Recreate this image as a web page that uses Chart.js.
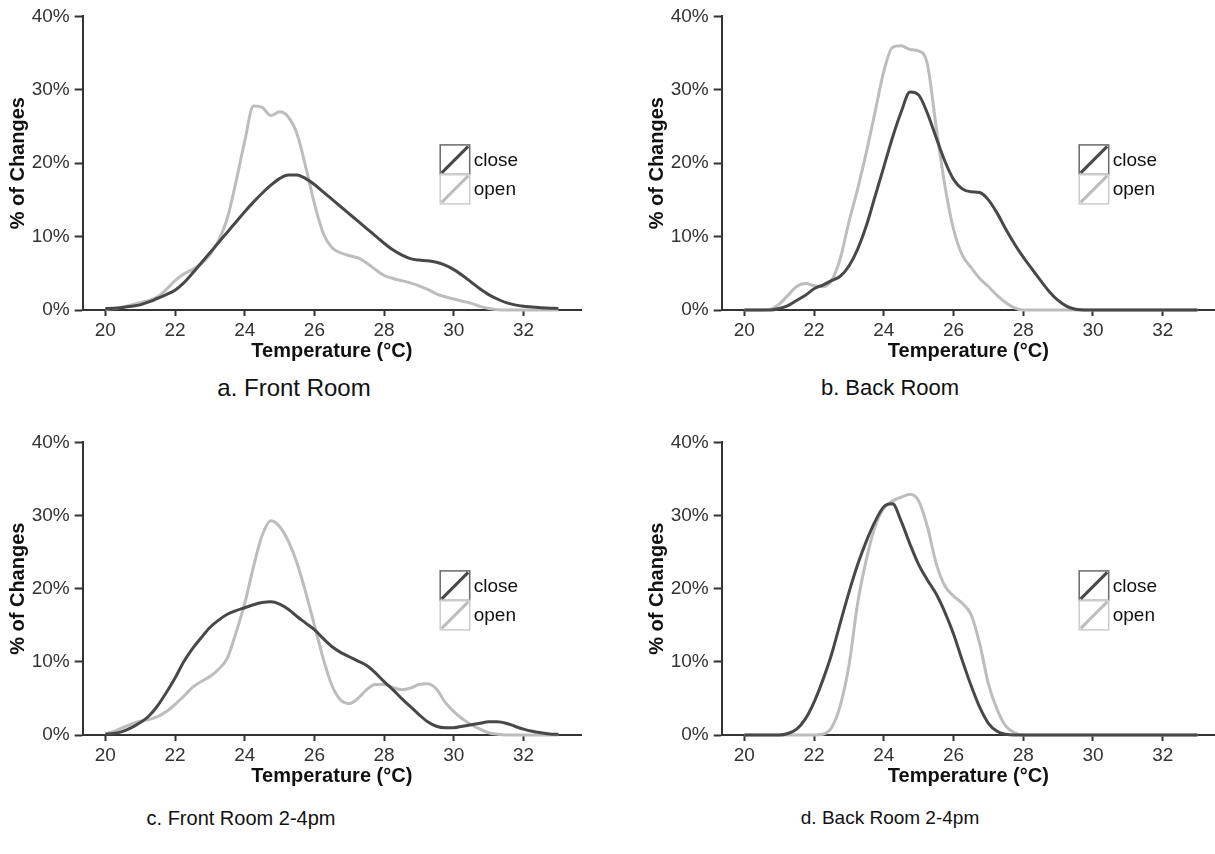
<!DOCTYPE html>
<html><head><meta charset="utf-8">
<script src="https://cdn.jsdelivr.net/npm/chart.js@4/dist/chart.umd.min.js"></script>
<style>
html,body{margin:0;padding:0;background:#fff;width:1215px;height:854px;overflow:hidden;position:relative;}
.panel{position:absolute;}
.cap{position:absolute;font-family:"Liberation Sans",Arial,sans-serif;font-size:22px;color:#111;transform:translate(-50%,-50%);white-space:nowrap;}
</style></head><body>
<div class="panel" style="left:0;top:0;width:600px;height:370px"><canvas id="pa"></canvas></div>
<div class="panel" style="left:639px;top:0;width:576px;height:370px"><canvas id="pb"></canvas></div>
<div class="panel" style="left:0;top:426px;width:600px;height:369px"><canvas id="pc"></canvas></div>
<div class="panel" style="left:639px;top:426px;width:576px;height:369px"><canvas id="pd"></canvas></div>
<div class="cap" style="left:294px;top:388px;font-size:24px">a. Front Room</div>
<div class="cap" style="left:890px;top:388px">b. Back Room</div>
<div class="cap" style="left:241px;top:818px;font-size:20px">c. Front Room 2-4pm</div>
<div class="cap" style="left:890px;top:818px;font-size:19px">d. Back Room 2-4pm</div>
<script>
const temps = [20,20.25,20.5,20.75,21,21.25,21.5,21.75,22,22.25,22.5,22.75,23,23.25,23.5,23.75,24,24.25,24.5,24.75,25,25.25,25.5,25.75,26,26.25,26.5,26.75,27,27.25,27.5,27.75,28,28.25,28.5,28.75,29,29.25,29.5,29.75,30,30.25,30.5,30.75,31,31.25,31.5,31.75,32,32.25,32.5,32.75,33];
const seriesNames = ['close', 'open'];
const xTicks = [20,22,24,26,28,30,32];
const yTicks = [0,10,20,30,40];

const frontClose = [0.2,0.25,0.35,0.5,0.7,1.1,1.6,2.1,2.7,3.7, 5.0,6.4,7.8,9.2,10.6,12.0,13.4,14.7,15.9,17.0, 17.9,18.4,18.4,17.9,17.1,16.1,15.1,14.1,13.1,12.1, 11.1,10.1,9.1,8.2,7.5,7.0,6.8,6.7,6.5,6.1, 5.5,4.7,3.8,2.9,2.1,1.5,1.0,0.7,0.5,0.4, 0.3,0.25,0.2];
const frontOpen = [0.1,0.2,0.4,0.7,1.0,1.3,1.8,2.8,4.0,4.9, 5.5,6.3,7.5,9.5,12.5,17.5,23.0,27.8,27.6,26.5, 27.0,26.3,24.0,19.5,14.5,10.5,8.5,7.8,7.4,7.1, 6.4,5.5,4.7,4.3,4.0,3.7,3.3,2.8,2.2,1.8, 1.5,1.2,0.9,0.5,0.2,0.05,0,0,0,0, 0,0,0];
const backClose = [0,0,0,0,0.2,0.6,1.3,2.0,2.9,3.4, 4.0,4.6,6.0,8.3,11.5,15.5,19.5,23.5,27.0,29.7, 29.3,26.8,23.5,20.3,17.8,16.5,16.1,16.0,15.0,13.2, 11.0,9.0,7.2,5.6,4.0,2.5,1.3,0.5,0.1,0, 0,0,0,0,0,0,0,0,0,0, 0,0,0];
const backOpen = [0,0,0,0.1,0.8,2.0,3.2,3.6,3.3,3.2, 4.0,7.0,12.0,16.5,21.5,27.0,32.5,35.8,36.0,35.5, 35.3,33.5,25.0,17.0,11.0,7.5,5.8,4.3,3.2,2.0, 1.0,0.3,0,0,0,0,0,0,0,0, 0,0,0,0,0,0,0,0,0,0, 0,0,0];
const frontPmClose = [0.1,0.2,0.5,1.0,1.7,2.6,4.0,5.8,7.8,10.0, 11.8,13.3,14.7,15.7,16.5,17.0,17.4,17.8,18.1,18.2, 17.9,17.2,16.2,15.3,14.4,13.2,12.1,11.3,10.7,10.1, 9.5,8.5,7.3,6.2,5.0,3.9,2.8,1.8,1.2,1.0, 1.0,1.2,1.4,1.6,1.8,1.8,1.6,1.2,0.8,0.5, 0.3,0.15,0.1];
const frontPmOpen = [0.2,0.5,1.0,1.5,1.9,2.1,2.5,3.2,4.2,5.3, 6.5,7.3,8.0,9.0,10.5,14.0,18.0,23.0,27.3,29.3, 28.5,26.5,23.5,19.5,15.0,10.5,6.8,4.8,4.3,5.0, 6.2,6.9,6.9,6.5,6.2,6.4,6.9,7.0,6.3,4.5, 3.2,2.2,1.4,0.8,0.3,0.1,0,0,0,0, 0,0,0];
const backPmClose = [0,0,0,0,0,0.2,0.8,2.2,4.5,7.5, 11.0,15.3,19.5,23.3,26.5,29.2,31.2,31.6,29.2,26.1, 23.3,21.2,19.3,16.8,13.8,10.2,6.8,3.8,1.6,0.5, 0.1,0,0,0,0,0,0,0,0,0, 0,0,0,0,0,0,0,0,0,0, 0,0,0];
const backPmOpen = [0,0,0,0,0,0,0,0,0,0.1, 1.0,4.0,9.5,18.0,24.0,28.5,31.0,32.0,32.5,32.9, 32.0,28.5,23.5,20.4,19.0,18.0,16.5,12.5,7.0,3.5, 1.2,0.3,0,0,0,0,0,0,0,0, 0,0,0,0,0,0,0,0,0,0, 0,0,0];

const FONT = '"Liberation Sans", Arial, Helvetica, sans-serif';
Chart.defaults.font.family = FONT;
Chart.defaults.color = '#333';

const COLORS = { close: '#484848', open: '#bdbdbd' };
const BOXCOLORS = { close: '#6a6a6a', open: '#cccccc' };

const boxLegend = {
  id: 'boxLegend',
  afterDatasetsDraw(chart) {
    const { ctx, chartArea } = chart;
    const x0 = chartArea.left + 357.5, y0 = chartArea.top + 128.5, s = 29.5;
    chart.data.datasets.forEach((ds, i) => {
      const y = y0 + i * s;
      ctx.save();
      ctx.strokeStyle = BOXCOLORS[ds.label];
      ctx.lineWidth = 1.5;
      ctx.strokeRect(x0, y, s, s);
      ctx.strokeStyle = ds.borderColor;
      ctx.lineWidth = 3;
      ctx.beginPath();
      ctx.moveTo(x0 + 1.5, y + s - 1.5);
      ctx.lineTo(x0 + s - 1.5, y + 1.5);
      ctx.stroke();
      ctx.fillStyle = '#111';
      ctx.font = '19px ' + FONT;
      ctx.textBaseline = 'middle';
      ctx.textAlign = 'left';
      ctx.fillText(ds.label, x0 + s + 4, y + s / 2 + 1);
      ctx.restore();
    });
  }
};

function makePanel(id, closeVals, openVals, xMax) {
  const series = [closeVals, openVals];
  new Chart(document.getElementById(id), {
    type: 'line',
    data: {
      labels: temps,
      datasets: seriesNames.map((name, i) => ({
        label: name,
        data: temps.map((t, k) => ({ x: t, y: series[i][k] })),
        borderColor: COLORS[name],
        borderWidth: 3,
        pointRadius: 0,
        fill: false,
        cubicInterpolationMode: 'monotone',
        clip: false
      }))
    },
    options: {
      responsive: true,
      maintainAspectRatio: false,
      animation: false,
      events: [],
      layout: { padding: { top: 15, right: xMax > 33.6 ? 19 : 0, bottom: 0, left: 0 } },
      plugins: { legend: { display: false }, tooltip: { enabled: false }, title: { display: false } },
      scales: {
        x: {
          type: 'linear',
          min: 19.35,
          max: xMax,
          afterFit: s => { s.height = 60; },
          afterBuildTicks: s => { s.ticks = xTicks.map(v => ({ value: v })); },
          ticks: { stepSize: 2, includeBounds: false, font: { size: 19 }, color: '#333', padding: 3, maxRotation: 0 },
          grid: { drawOnChartArea: false, drawTicks: true, tickLength: 6, tickColor: '#333', tickWidth: 2 },
          border: { display: true, color: '#333', width: 2 },
          title: { display: true, text: 'Temperature (°C)', font: { size: 20, weight: 'bold' }, color: '#111', padding: { top: 0, bottom: 7 } }
        },
        y: {
          min: 0,
          max: 40,
          afterFit: s => { s.width = 82.7; },
          afterBuildTicks: s => { s.ticks = yTicks.map(v => ({ value: v })); },
          ticks: { stepSize: 10, font: { size: 19 }, color: '#333', padding: 5, callback: v => v + '%' },
          grid: { drawOnChartArea: false, drawTicks: true, tickLength: 8, tickColor: '#333', tickWidth: 2 },
          border: { display: true, color: '#333', width: 2 },
          title: { display: true, text: '% of Changes', font: { size: 20, weight: 'bold' }, color: '#111', padding: { top: 6, bottom: 0 } }
        }
      }
    },
    plugins: [boxLegend]
  });
}

makePanel('pa', frontClose, frontOpen, 33.65);
makePanel('pb', backClose, backOpen, 33.5);
makePanel('pc', frontPmClose, frontPmOpen, 33.65);
makePanel('pd', backPmClose, backPmOpen, 33.5);
</script>
</body></html>
